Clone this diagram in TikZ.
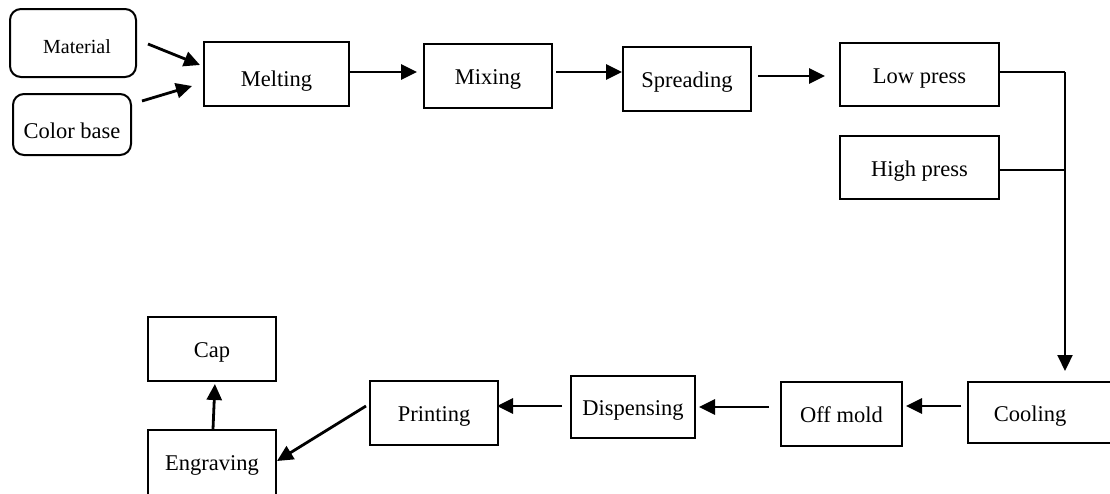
\documentclass[tikz,border=0pt]{standalone}
\usepackage{fontspec}
\setmainfont{Liberation Serif}
\usetikzlibrary{arrows.meta,calc}
\begin{document}
\begin{tikzpicture}[x=1pt,y=-1pt,
  box/.style={draw,line width=2pt,minimum width=128pt,minimum height=64pt,
    inner sep=0pt,text height=20pt,text depth=2.4pt,
    font=\fontsize{22.5}{26}\selectfont},
  rbox/.style={box,rounded corners=11pt},
  flow/.style={line width=2.8pt,-{Triangle[length=16pt,width=15pt]}},
  busline/.style={line width=1.6pt}]
\clip (0,0) rectangle (1110,493);
\fill[white] (0,0) rectangle (1110,493);

% inputs
\node[rbox,minimum width=126pt,minimum height=68pt,text height=22pt,text depth=1.4pt,
  font=\fontsize{20}{23}\selectfont]
  (mat) at (73,43) {\hspace*{8pt}Material};
\node[rbox,minimum width=118pt,minimum height=61pt,text height=28pt,text depth=1pt]
  (col) at (72,124.5) {Color base};

% upper row
\node[box,minimum width=145pt,text height=27pt,text depth=1.6pt] (melt) at (276.5,74) {Melting};
\node[box] (mix) at (488,76) {Mixing};
\node[box] (spr) at (687,79) {Spreading};
\node[box,minimum width=159pt,minimum height=63pt] (low) at (919.5,74.5) {Low press};
\node[box,minimum width=159pt,minimum height=63pt] (high) at (919.5,167.5) {High press};

% lower row
\node[box,minimum width=157pt,minimum height=61pt] (cool) at (1046.5,412.5) {Cooling\hspace*{33pt}};
\node[box,minimum width=121pt] (off) at (841.5,414) {Off mold};
\node[box,minimum width=124pt,minimum height=62pt] (disp) at (633,407) {Dispensing};
\node[box] (prn) at (434,413) {Printing};
\node[box,minimum height=70pt,text height=14pt,text depth=2.4pt] (eng) at (212,465) {Engraving};
\node[box] (cap) at (212,349) {Cap};

% free ends of the slanted input arrows and the collector bend
\coordinate (matout) at (148,44);
\coordinate (colout) at (142,101);
\coordinate (meltinA) at (200,65);
\coordinate (meltinB) at (192,86);
\coordinate (bus) at (1065,72);
\coordinate (prnout) at (366,406);

\draw[flow] (matout) -- (meltinA);
\draw[flow] (colout) -- (meltinB);

\draw[flow,shorten >=6pt] ([yshift=2pt]melt.east) -- ([yshift=2pt]melt.east -| mix.west);
\draw[flow,shorten <=3pt] ([yshift=4pt]mix.east) -- ([yshift=4pt]mix.east -| spr.west);
\draw[flow,shorten <=6pt,shorten >=14pt] ([yshift=3pt]spr.east) -- ([yshift=3pt]spr.east -| low.west);

% collector line on the right
\draw[busline] ([yshift=2.5pt]low.east) -- (bus);
\draw[busline] ([yshift=-2.5pt]high.east) -- ([yshift=-2.5pt]high.east -| bus);
\draw[flow,line width=2.2pt,shorten >=10pt] (bus) -- (bus |- cool.north);

\draw[flow,shorten <=6pt,shorten >=3pt] ([yshift=6.5pt]cool.west) -- ([yshift=6.5pt]cool.west -| off.east);
\draw[flow,shorten <=11pt,shorten >=3pt] ([yshift=7pt]off.west) -- ([yshift=7pt]off.west -| disp.east);
\draw[flow,shorten <=8pt,shorten >=-2pt] ([yshift=1pt]disp.west) -- ([yshift=1pt]disp.west -| prn.east);
\draw[flow] (prnout) -- ([yshift=4pt]eng.east);
\draw[flow,shorten >=2pt] ([xshift=1pt]eng.north) -- ([xshift=3pt]cap.south);
\end{tikzpicture}
\end{document}
